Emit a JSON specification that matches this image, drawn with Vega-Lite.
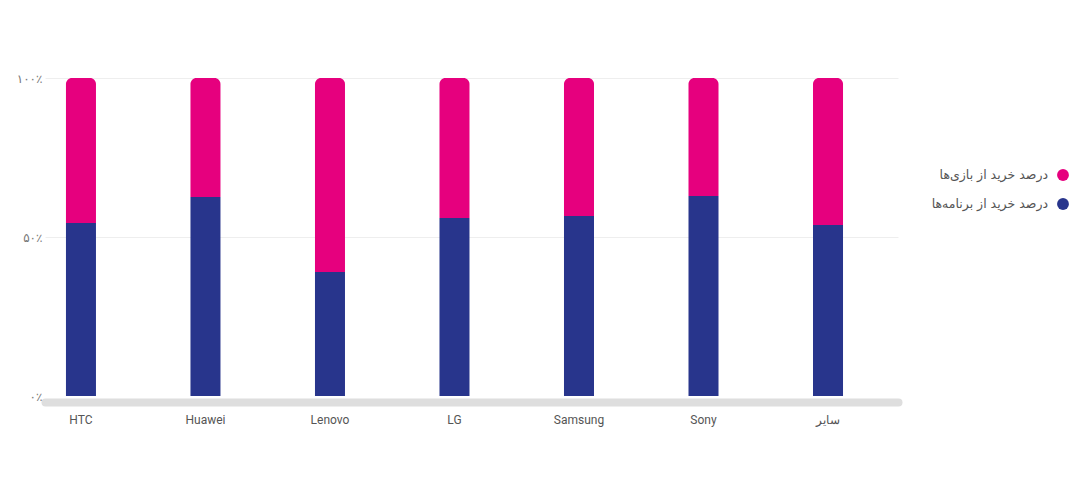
{
  "$schema": "https://vega.github.io/schema/vega-lite/v6.json",
  "background": "white",
  "padding": {"left": 16, "top": 72, "right": 5, "bottom": 5},
  "spacing": 10,
  "resolve": {"scale": {"x": "independent", "y": "independent"}},
  "config": {"view": {"stroke": null}},
  "hconcat": [
    {
      "width": 853,
      "height": 318,
      "data": {
        "values": [
          {"brand": "HTC", "series": "درصد خرید از برنامه‌ها", "pct": 54.4},
          {"brand": "HTC", "series": "درصد خرید از بازی‌ها", "pct": 45.6},
          {"brand": "Huawei", "series": "درصد خرید از برنامه‌ها", "pct": 62.6},
          {"brand": "Huawei", "series": "درصد خرید از بازی‌ها", "pct": 37.4},
          {"brand": "Lenovo", "series": "درصد خرید از برنامه‌ها", "pct": 39.0},
          {"brand": "Lenovo", "series": "درصد خرید از بازی‌ها", "pct": 61.0},
          {"brand": "LG", "series": "درصد خرید از برنامه‌ها", "pct": 56.0},
          {"brand": "LG", "series": "درصد خرید از بازی‌ها", "pct": 44.0},
          {"brand": "Samsung", "series": "درصد خرید از برنامه‌ها", "pct": 56.6},
          {"brand": "Samsung", "series": "درصد خرید از بازی‌ها", "pct": 43.4},
          {"brand": "Sony", "series": "درصد خرید از برنامه‌ها", "pct": 62.9},
          {"brand": "Sony", "series": "درصد خرید از بازی‌ها", "pct": 37.1},
          {"brand": "سایر", "series": "درصد خرید از برنامه‌ها", "pct": 53.8},
          {"brand": "سایر", "series": "درصد خرید از بازی‌ها", "pct": 46.2}
        ]
      },
      "transform": [
        {"stack": "pct", "groupby": ["brand"], "sort": [{"field": "series", "order": "descending"}], "as": ["y0", "y1"]}
      ],
      "encoding": {
        "x": {
          "field": "brand",
          "type": "nominal",
          "sort": ["HTC", "Huawei", "Lenovo", "LG", "Samsung", "Sony", "سایر"],
          "scale": {"paddingInner": 0.759, "paddingOuter": 0.305, "align": 0.276},
          "axis": {
            "title": null,
            "labelAngle": 0,
            "ticks": false,
            "domainColor": "#dedede",
            "domainWidth": 8,
            "domainCap": "round",
            "offset": 6,
            "labelPadding": 12,
            "labelFont": "Roboto",
            "labelFontSize": 12,
            "labelColor": "#555555"
          }
        },
        "y": {
          "field": "y1",
          "type": "quantitative",
          "scale": {"domain": [0, 100], "nice": false},
          "axis": {
            "title": null,
            "values": [0, 50, 100],
            "domain": false,
            "ticks": false,
            "labelPadding": 3,
            "labelFont": "DejaVu Sans",
            "labelFontSize": 12,
            "labelColor": "#777777",
            "gridColor": "#eeeeee",
            "gridOpacity": {"condition": {"test": "datum.value === 0", "value": 0}, "value": 1},
            "labelExpr": "datum.value == 0 ? '۰٪' : datum.value == 50 ? '۵۰٪' : '۱۰۰٪'"
          }
        },
        "y2": {"field": "y0"},
        "color": {
          "field": "series",
          "type": "nominal",
          "scale": {"domain": ["درصد خرید از بازی‌ها", "درصد خرید از برنامه‌ها"], "range": ["#e6007e", "#28358c"]},
          "legend": null
        }
      },
      "layer": [
        {
          "transform": [{"filter": "datum.series == 'درصد خرید از برنامه‌ها'"}],
          "mark": {"type": "bar"}
        },
        {
          "transform": [{"filter": "datum.series == 'درصد خرید از بازی‌ها'"}],
          "mark": {"type": "bar", "cornerRadiusTopLeft": 6, "cornerRadiusTopRight": 6}
        }
      ]
    },
    {
      "width": 155,
      "height": 318,
      "data": {
        "values": [
          {"series": "درصد خرید از بازی‌ها"},
          {"series": "درصد خرید از برنامه‌ها"}
        ]
      },
      "encoding": {
        "x": {"datum": 1, "type": "quantitative", "scale": {"domain": [0, 1]}, "axis": null},
        "text": {"field": "series"}
      },
      "layer": [
        {
          "transform": [{"filter": "datum.series == 'درصد خرید از بازی‌ها'"}],
          "encoding": {
            "y": {"datum": 1, "type": "quantitative", "scale": {"domain": [-6.6207, 4.345], "nice": false, "zero": false}, "axis": null}
          },
          "layer": [
            {
              "mark": {"type": "point", "filled": true, "size": 140, "opacity": 1},
              "encoding": {
                "color": {
                  "field": "series",
                  "type": "nominal",
                  "scale": {"domain": ["درصد خرید از بازی‌ها", "درصد خرید از برنامه‌ها"], "range": ["#e6007e", "#28358c"]},
                  "legend": null
                }
              }
            },
            {"mark": {"type": "text", "align": "right", "baseline": "middle", "dx": -15, "font": "DejaVu Sans", "fontSize": 12.5, "color": "#555555"}}
          ]
        },
        {
          "transform": [{"filter": "datum.series == 'درصد خرید از برنامه‌ها'"}],
          "encoding": {
            "y": {"datum": 0, "type": "quantitative", "scale": {"domain": [-6.6207, 4.345], "nice": false, "zero": false}, "axis": null}
          },
          "layer": [
            {
              "mark": {"type": "point", "filled": true, "size": 140, "opacity": 1},
              "encoding": {
                "color": {
                  "field": "series",
                  "type": "nominal",
                  "scale": {"domain": ["درصد خرید از بازی‌ها", "درصد خرید از برنامه‌ها"], "range": ["#e6007e", "#28358c"]},
                  "legend": null
                }
              }
            },
            {"mark": {"type": "text", "align": "right", "baseline": "middle", "dx": -15, "font": "DejaVu Sans", "fontSize": 12.5, "color": "#555555"}}
          ]
        }
      ]
    }
  ]
}
